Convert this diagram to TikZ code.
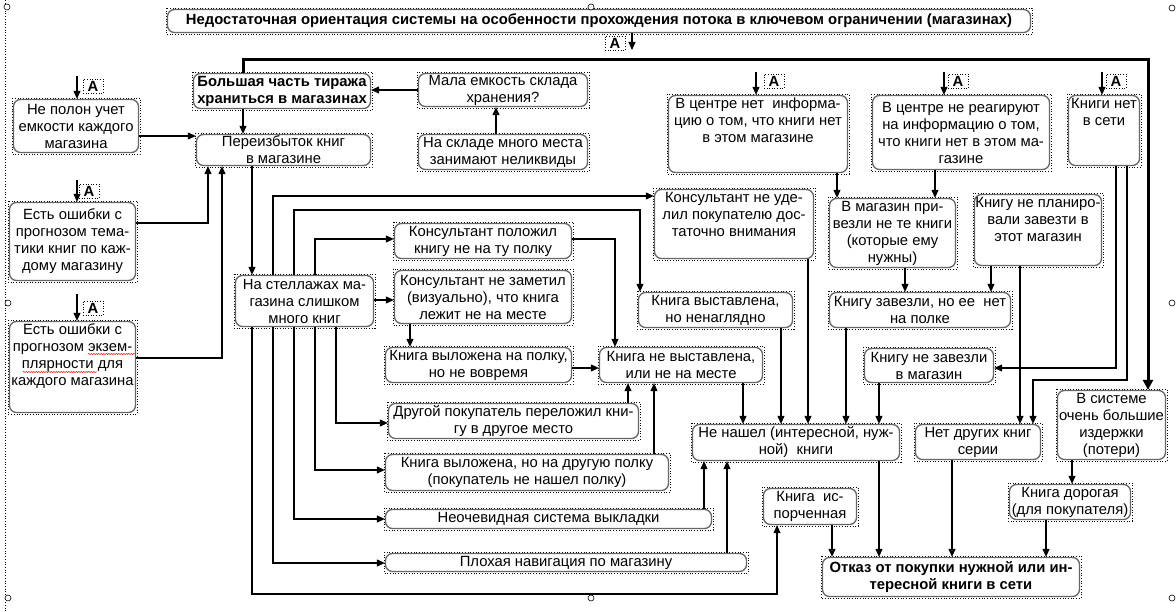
\documentclass[tikz,border=0pt]{standalone}
\usepackage{fontspec}
\setmainfont{Liberation Sans}
\usetikzlibrary{arrows.meta,decorations.pathmorphing}
\newcommand\fs{\fontsize{14.8}{17}\selectfont}
\tikzset{
 boxs/.style={draw=black!60, line width=1.3pt, rounded corners=7pt, inner sep=0pt, align=center, font=\fs},
 dotr/.style={dotted, line width=0.7pt, draw=black},
 txt/.style={inner sep=0pt, align=center, font=\fs},
 arr/.style={line width=1.1pt, -{Triangle[length=8pt,width=7pt]}},
 thickarr/.style={line width=3pt, -{Triangle[length=10pt,width=10pt]}},
 lbl/.style={draw, dotted, line width=0.6pt, inner sep=0pt, minimum width=20pt, minimum height=14pt, font=\fs\bfseries},
 hnd/.style={draw, line width=0.6pt, fill=white},
}
\newcommand\bx[7][]{%
 \draw[dotr] (#3,#4) rectangle (#5,#6);
 \pgfmathsetmacro\myBW{#5-#3-3}\pgfmathsetmacro\myBH{#6-#4-3}%
 \pgfmathsetmacro\myCX{(#3+#5)/2}\pgfmathsetmacro\myCY{(#4+#6)/2}%
 \node[boxs,minimum width=\myBW pt,minimum height=\myBH pt,#1] (#2) at (\myCX,\myCY) {#7};
}
\newcommand\bxt[7][]{%
 \bx{#2}{#3}{#4}{#5}{#6}{}%
 \node[txt,anchor=north,yshift=-3pt,#1] (#2t) at (#2.north) {#7};
}
\begin{document}
\begin{tikzpicture}[x=1pt,y=-1pt]
\useasboundingbox (0,0) rectangle (1176,612);
% editor frame
\draw[dotted, line width=0.7pt] (5,0) -- (5,612);
% boxes
\bx[font=\fs\bfseries]{title}{166}{8}{1032}{34}{Недостаточная ориентация системы на особенности прохождения потока в ключевом ограничении (магазинах)}
\bx[font=\fs\bfseries]{b1}{192}{72}{372}{110}{Большая часть тиража\\храниться в магазинах}
\bx{b2}{417}{72}{589}{108}{Мала емкость склада\\хранения?}
\bx{b3}{417}{133}{589}{171}{На складе много места\\занимают неликвиды}
\bx{b4}{195}{133}{372}{167}{Переизбыток книг\\в магазине}
\bx{b5}{12}{98}{140}{154}{Не полон учет\\емкости каждого\\магазина}
\bx{b6}{8}{201}{137}{282}{Есть ошибки с\\прогнозом тема-\\тики книг по каж-\\дому магазину}
\bxt{b7}{8}{320}{137}{414}{Есть ошибки с\\прогнозом экзем-\\плярности для\\каждого магазина}
\bx{b8}{234}{274}{375}{328}{На стеллажах ма-\\газина слишком\\много книг}
\bx{b9}{393}{222}{573}{260}{Консультант положил\\книгу не на ту полку}
\bx{b10}{393}{269}{573}{325}{Консультант не заметил\\(визуально), что книга\\лежит не на месте}
\bx{b11}{384}{346}{573}{384}{Книга выложена на полку,\\но не вовремя}
\bx{b12}{598}{346}{764}{384}{Книга не выставлена,\\или не на месте}
\bx{b13}{387}{402}{640}{440}{Другой покупатель переложил кни-\\гу в другое место}
\bx{b14}{384}{453}{670}{492}{Книга выложена, но на другую полку\\(покупатель не нашел полку)}
\bx{b15}{384}{508}{713}{530}{Неочевидная система выкладки}
\bx{b16}{384}{552}{748}{573}{Плохая навигация по магазину}
\bx{b17}{691}{423}{901}{462}{Не нашел (интересной, нуж-\\ной)~~книги}
\bxt{b18}{653}{188}{815}{260}{Консультант не уде-\\лил покупателю дос-\\таточно внимания}
\bx{b19}{637}{291}{794}{329}{Книга выставлена,\\но ненаглядно}
\bxt{b20}{667}{94}{849}{174}{В центре нет~~информа-\\цию о том, что книги нет\\в этом магазине}
\bx{b21}{871}{94}{1051}{171}{В центре не реагируют\\на информацию о том,\\что книги нет в этом ма-\\газине}
\bxt{b22}{1067}{94}{1141}{167}{Книги нет\\в сети}
\bx{b23}{828}{197}{957}{269}{В магазин при-\\везли не те книги\\(которые ему\\нужны)}
\bxt{b24}{973}{193}{1103}{267}{Книгу не планиро-\\вали завезти в\\этот магазин}
\bx{b25}{828}{291}{1012}{329}{Книгу завезли, но ее~~нет\\на полке}
\bx{b26}{863}{347}{995}{384}{Книгу не завезли\\в магазин}
\bx{b27}{914}{423}{1042}{461}{Нет других книг\\серии}
\bx{b28}{1056}{389}{1167}{461}{В системе\\очень большие\\издержки\\(потери)}
\bx{b29}{1008}{483}{1132}{521}{Книга дорогая\\(для покупателя)}
\bx{b30}{762}{487}{858}{526}{Книга~~ис-\\порченная}
\bx[font=\fs\bfseries]{b31}{821}{556}{1081}{598}{Отказ от покупки нужной или ин-\\тересной книги в сети}
% spell-check underline
\draw[red, line width=0.5pt, decorate, decoration={snake,amplitude=0.6pt,segment length=2.5pt}] (88,354) -- (135,354);
\draw[red, line width=0.5pt, decorate, decoration={snake,amplitude=0.6pt,segment length=2.5pt}] (23,372) -- (97,372);
% "A" labels and their arrows
\coordinate (at) at (632,50);
\draw[arr] (632,0 |- title.south) -- (at);
\node[lbl] (lat) at (615,43) {А};
\coordinate (a5) at (77,76);
\draw[arr] (a5) -- (77,0 |- b5.north);
\node[lbl] (la5) at (93,86) {А};
\coordinate (a6) at (77,180);
\draw[arr] (a6) -- (77,0 |- b6.north);
\node[lbl] (la6) at (89,191) {А};
\coordinate (a7) at (77,294);
\draw[arr] (a7) -- (77,0 |- b7.north);
\node[lbl] (la7) at (93,308) {А};
\coordinate (a20) at (756,72);
\draw[arr] (a20) -- (756,0 |- b20.north);
\node[lbl] (la20) at (774,81) {А};
\coordinate (a21) at (944,72);
\draw[arr] (a21) -- (944,0 |- b21.north);
\node[lbl] (la21) at (958,81) {А};
\coordinate (a22) at (1102,72);
\draw[arr] (a22) -- (1102,0 |- b22.north);
\node[lbl] (la22) at (1116,81) {А};
% thick line
\draw[thickarr] (243,0 |- b1.north) |- (1148,60) -- (1148,0 |- b28.north);
% connectors
\draw[arr] (b2.west |- 0,90) -- (b1.east |- 0,90);
\draw[arr] (496,0 |- b3.north) -- (496,0 |- b2.south);
\draw[arr] (243,0 |- b1.south) -- (243,0 |- b4.north);
\draw[arr] (b5.east |- 0,136) -- (b4.west |- 0,136);
\draw[arr] (b6.east |- 0,223) -| (208,0 |- b4.south);
\draw[arr] (b7.east |- 0,358) -| (222,0 |- b4.south);
\draw[arr] (252,0 |- b4.south) -- (252,0 |- b8.north);
\draw[arr] (273,0 |- b8.north) |- (b18.west |- 0,196);
\draw[arr] (294,0 |- b8.north) |- (640,210) -- (640,0 |- b19.north);
\draw[arr] (315,0 |- b8.north) |- (b9.west |- 0,239);
\draw[arr] (b8.east |- 0,300) -- (b10.west |- 0,300);
\draw[arr] (336,0 |- b8.south) |- (b13.west |- 0,423);
\draw[arr] (315,0 |- b8.south) |- (b14.west |- 0,470);
\draw[arr] (294,0 |- b8.south) |- (b15.west |- 0,519);
\draw[arr] (273,0 |- b8.south) |- (b16.west |- 0,563);
\draw[arr] (252,0 |- b8.south) |- (777,594) -- (777,0 |- b30.south);
\draw[arr] (b9.east |- 0,239) -| (615,0 |- b12.north);
\draw[arr] (410,0 |- b10.south) -- (410,0 |- b11.north);
\draw[arr] (b11.east |- 0,368) -- (b12.west |- 0,368);
\draw[arr] (628,0 |- b13.north) -- (628,0 |- b12.south);
\draw[arr] (654,0 |- b14.north) -- (654,0 |- b12.south);
\draw[arr] (743,0 |- b12.south) -- (743,0 |- b17.north);
\draw[arr] (781,0 |- b19.south) -- (781,0 |- b17.north);
\draw[arr] (808,0 |- b18.south) -- (808,0 |- b17.north);
\draw[arr] (846,0 |- b25.south) -- (846,0 |- b17.north);
\draw[arr] (879,0 |- b26.south) -- (879,0 |- b17.north);
\draw[arr] (704,0 |- b15.north) -- (704,0 |- b17.south);
\draw[arr] (727,0 |- b16.north) -- (727,0 |- b17.south);
\draw[arr] (879,0 |- b17.south) -- (879,0 |- b31.north);
\draw[arr] (832,0 |- b30.south) -- (832,0 |- b31.north);
\draw[arr] (952,0 |- b27.south) -- (952,0 |- b31.north);
\draw[arr] (1046,0 |- b29.south) -- (1046,0 |- b31.north);
\draw[arr] (1072,0 |- b28.south) -- (1072,0 |- b29.north);
\draw[arr] (837,0 |- b20.south) -- (837,0 |- b23.north);
\draw[arr] (935,0 |- b21.south) -- (935,0 |- b23.north);
\draw[arr] (905,0 |- b23.south) -- (905,0 |- b25.north);
\draw[arr] (991,0 |- b24.south) -- (991,0 |- b25.north);
\draw[arr] (1020,0 |- b24.south) -- (1020,0 |- b27.north);
\draw[arr] (1116,0 |- b22.south) |- (b26.east |- 0,368);
\draw[arr] (1127,0 |- b22.south) |- (1033,380) -- (1033,0 |- b27.north);
% selection handles
\foreach \hx/\hy in {7/7,591/7,1172/8,8/303,1172/303,8/598,591/598,1172/598}
  \draw[hnd] (\hx,\hy) circle[radius=3pt];
\end{tikzpicture}
\end{document}
